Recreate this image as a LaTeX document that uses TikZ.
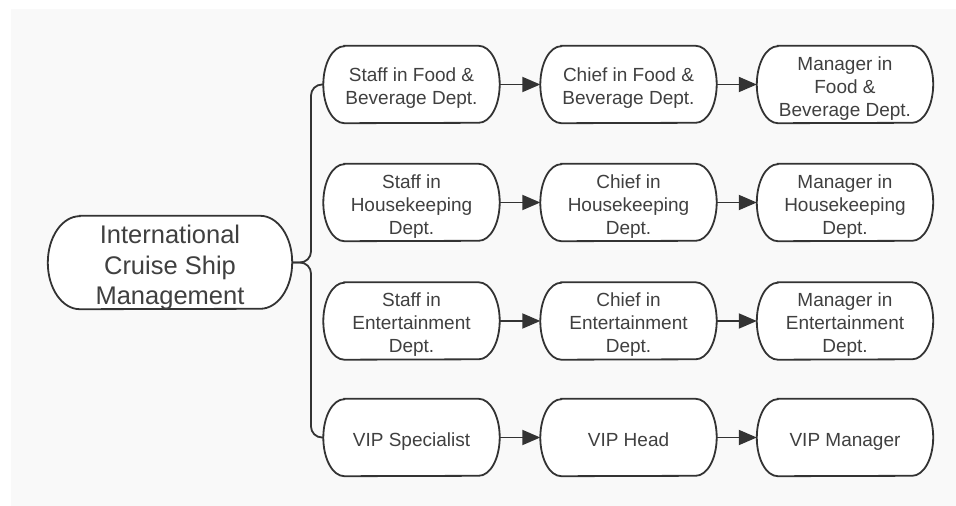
\documentclass[tikz,border=0pt]{standalone}
\usepackage{fontspec}
\setmainfont{Liberation Sans}
\usetikzlibrary{arrows.meta}
\definecolor{ink}{HTML}{333333}
\definecolor{txt}{HTML}{404040}
\definecolor{paper}{HTML}{F9F9F9}
\pgfdeclarelayer{bgl}
\pgfsetlayers{bgl,main}
\newcommand\stadiumoutline[3]{%
  \draw[outl] ([xshift=#2]#1.north west) -- ([xshift=-#2]#1.north east)
    arc[start angle=90,end angle=-90,x radius=#2,y radius=#3]
    -- ([xshift=#2]#1.south west)
    arc[start angle=270,end angle=90,x radius=#2,y radius=#3] -- cycle;}
\begin{document}
\begin{tikzpicture}[x=1pt,y=1pt,
  box/.style={inner sep=0pt, minimum width=176pt, minimum height=77pt},
  boxtext/.style={inner sep=0pt, align=center, yshift=-4pt, text=txt,
    font=\fontsize{19}{23}\selectfont},
  rootbox/.style={inner sep=0pt, minimum width=244pt, minimum height=93pt},
  roottext/.style={inner sep=0pt, align=center, yshift=-5pt, text=txt,
    font=\fontsize{25.5}{30.5}\selectfont},
  outl/.style={draw=ink, line width=1.8pt, fill=white},
  conn/.style={draw=ink, line width=1.8pt, rounded corners=11pt},
  arr/.style={draw=ink, line width=1.9pt, -{Triangle[length=18pt,width=15pt]}}]
\useasboundingbox (0,0) rectangle (956,506);

\node[rootbox, label={[roottext]center:{International\\Cruise Ship\\Management}}] (root) at (170,243.5) {};

\node[box, label={[boxtext]center:{Staff in Food \&\\Beverage Dept.}}] (a1) at (411.5,421.5) {};
\node[box, label={[boxtext]center:{Chief in Food \&\\Beverage Dept.}}] (a2) at (628.5,421.5) {};
\node[box, label={[boxtext]center:{Manager in\\Food \&\\Beverage Dept.}}] (a3) at (845,421.5) {};

\node[box, label={[boxtext]center:{Staff in\\Housekeeping\\Dept.}}] (b1) at (411.5,303.5) {};
\node[box, label={[boxtext]center:{Chief in\\Housekeeping\\Dept.}}] (b2) at (628.5,303.5) {};
\node[box, label={[boxtext]center:{Manager in\\Housekeeping\\Dept.}}] (b3) at (845,303.5) {};

\node[box, label={[boxtext]center:{Staff in\\Entertainment\\Dept.}}] (c1) at (411.5,185) {};
\node[box, label={[boxtext]center:{Chief in\\Entertainment\\Dept.}}] (c2) at (628.5,185) {};
\node[box, label={[boxtext]center:{Manager in\\Entertainment\\Dept.}}] (c3) at (845,185) {};

\node[box, label={[boxtext]center:{\strut VIP Specialist}}] (d1) at (411.5,68.5) {};
\node[box, label={[boxtext]center:{\strut VIP Head}}] (d2) at (628.5,68.5) {};
\node[box, label={[boxtext]center:{\strut VIP Manager}}] (d3) at (845,68.5) {};

\begin{pgfonlayer}{bgl}
  \fill[white] (0,0) rectangle (956,506);
  \fill[paper] (11,0) rectangle (956,497);
  \stadiumoutline{root}{32pt}{46.5pt}
  \foreach \n in {a1,a2,a3,b1,b2,b3,c1,c2,c3,d1,d2,d3}{\stadiumoutline{\n}{21pt}{38.5pt}}
\end{pgfonlayer}

\coordinate (jx) at (311,243.5);
\draw[conn] (root.east) -- (jx) |- (a1.west);
\draw[conn] (root.east) -- (jx) |- (d1.west);

\foreach \r in {a,b,c,d}{
  \draw[arr] (\r1.east) -- (\r2.west);
  \draw[arr] (\r2.east) -- (\r3.west);
}
\end{tikzpicture}
\end{document}
